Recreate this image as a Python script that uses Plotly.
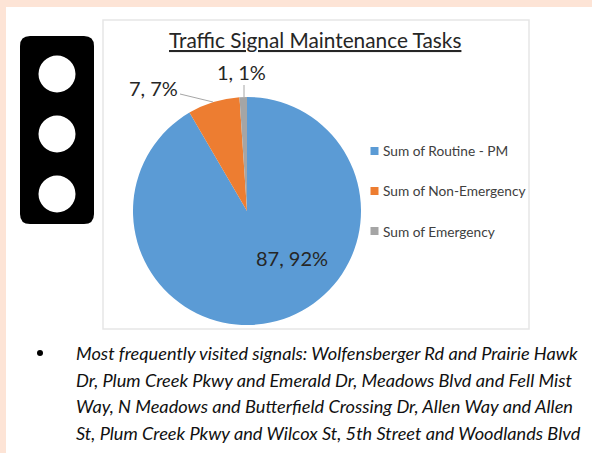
import plotly.graph_objects as go

W, H = 592, 453
categories = ["Sum of Routine - PM", "Sum of Non-Emergency", "Sum of Emergency"]
values = [87, 7, 1]
colors = ["#5B9BD5", "#ED7D31", "#A5A5A5"]
title = "Traffic Signal Maintenance Tasks"
bullet_lines = [
    "Most frequently visited signals: Wolfensberger Rd and Prairie Hawk",
    "Dr, Plum Creek Pkwy and Emerald Dr, Meadows Blvd and Fell Mist",
    "Way, N Meadows and Butterfield Crossing Dr, Allen Way and Allen",
    "St, Plum Creek Pkwy and Wilcox St, 5th Street and Woodlands Blvd",
]

FONT = "Lato, Carlito, Calibri, sans-serif"
INK = "#262626"


def px(x):
    return x / W


def py(y):
    return 1 - y / H


def rect(x0, y0, x1, y1, **kw):
    return dict(type="rect", xref="paper", yref="paper", x0=px(x0), x1=px(x1),
                y0=py(y1), y1=py(y0), **kw)


def circle(cx, cy, r, color):
    return dict(type="circle", xref="paper", yref="paper", x0=px(cx - r), x1=px(cx + r),
                y0=py(cy + r), y1=py(cy - r), fillcolor=color, line_width=0)


def line(x0, y0, x1, y1):
    return dict(type="line", xref="paper", yref="paper", x0=px(x0), x1=px(x1),
                y0=py(y0), y1=py(y1), line=dict(color="#A6A6A6", width=1))


def text(x, y, s, size, color=INK, anchor="left", italic=False):
    return dict(xref="paper", yref="paper", x=px(x), y=py(y), text=s, showarrow=False,
                xanchor=anchor, yanchor="middle", align="left",
                font=dict(family=FONT, size=size, color=color,
                          style="italic" if italic else "normal"))


total = sum(values)
slice_labels = [f"{v}, {round(100 * v / total)}%" for v in values]

fig = go.Figure(go.Pie(
    labels=categories, values=values, sort=False, direction="clockwise", rotation=0,
    marker=dict(colors=colors, line=dict(width=0)), textinfo="none", showlegend=False,
    domain=dict(x=[px(133), px(361)], y=[py(325), py(97)]),
))

# traffic-light shape
x0, x1, y0, y1, r = px(20), px(94), py(224), py(36), 10
rx, ry = r / W, r / H
light = (f"M {x0 + rx} {y1} L {x1 - rx} {y1} Q {x1} {y1} {x1} {y1 - ry} "
         f"L {x1} {y0 + ry} Q {x1} {y0} {x1 - rx} {y0} L {x0 + rx} {y0} "
         f"Q {x0} {y0} {x0} {y0 + ry} L {x0} {y1 - ry} Q {x0} {y1} {x0 + rx} {y1} Z")

shapes = [
    rect(0, 0, W, 7, fillcolor="#FDE4D6", line_width=0, layer="below"),
    rect(0, 0, 6, H, fillcolor="#FDE4D6", line_width=0, layer="below"),
    rect(103, 20, 529, 329, fillcolor="white", line=dict(color="#E6E6E6", width=1.5), layer="below"),
    dict(type="path", xref="paper", yref="paper", path=light, fillcolor="black", line_width=0),
    circle(57, 74, 18.5, "white"),
    circle(57, 134, 18.5, "white"),
    circle(57, 194, 18.5, "white"),
    line(180, 94, 213, 102),
    line(244, 85, 244, 97),
    circle(40, 353, 3, "black"),
]

annotations = [
    text(315, 39, f"<u>{title}</u>", 20.8, anchor="center"),
    text(292, 258, slice_labels[0], 20, anchor="center"),
    text(153.5, 88, slice_labels[1], 20, anchor="center"),
    text(241, 72, slice_labels[2], 20, anchor="center"),
]

for i, (cat, col) in enumerate(zip(categories, colors)):
    yc = 151 + 40 * i
    shapes.append(rect(370.5, yc - 4, 378.5, yc + 4, fillcolor=col, line_width=0))
    annotations.append(text(381, yc, cat, 13.7, color="#404040"))

for i, s in enumerate(bullet_lines):
    annotations.append(text(74, 353 + 26.7 * i, s, 18.2, color="#111111", italic=True))

fig.update_layout(
    width=W, height=H, margin=dict(l=0, r=0, t=0, b=0),
    paper_bgcolor="white", plot_bgcolor="white", showlegend=False,
    shapes=shapes, annotations=annotations,
)
fig.write_html("out.html", config=dict(displayModeBar=False),
               post_script="document.body.style.margin='0';")
